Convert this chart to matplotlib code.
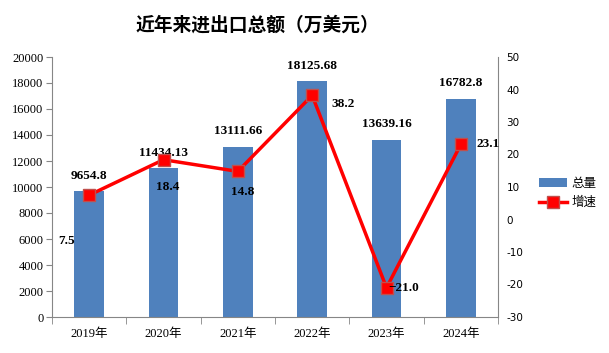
import matplotlib
matplotlib.use("Agg")
import matplotlib.pyplot as plt
from matplotlib.lines import Line2D
from matplotlib.patches import Patch

years = ["2019年", "2020年", "2021年", "2022年", "2023年", "2024年"]
totals = [9654.8, 11434.13, 13111.66, 18125.68, 13639.16, 16782.8]
total_labels = ["9654.8", "11434.13", "13111.66", "18125.68", "13639.16", "16782.8"]
growth = [7.5, 18.4, 14.8, 38.2, -21.0, 23.1]
growth_labels = ["7.5", "18.4", "14.8", "38.2", "\u221221.0", "23.1"]
# label offsets (pixels) for growth labels, styling only
g_off = [(-23, -46), (4, -27), (5, -21), (31, -9), (17, 0), (27, 0)]

serif = ["Liberation Serif", "Noto Sans CJK SC"]
cjk = ["Noto Sans CJK SC", "DejaVu Sans"]

fig = plt.figure(figsize=(6.09, 3.53), dpi=100)
ax = fig.add_axes([52/609, 1-317/353, (498-52)/609, (317-57)/353])
x = list(range(len(years)))
ax.bar(x, totals, width=0.4, color="#4F81BD", zorder=2)
ax.set_xlim(-0.5, 5.5)
ax.set_ylim(0, 20000)
ax.set_yticks(range(0, 20001, 2000))
ax.set_yticklabels([str(v) for v in range(0, 20001, 2000)], family=serif, fontsize=9)
ax.set_xticks(x)
ax.set_xticklabels(years, family=serif, fontsize=9)
ax.tick_params(axis="x", length=0, pad=8)
ax.set_xticks([i - 0.5 for i in range(7)], minor=True)
ax.tick_params(axis="x", which="minor", length=5, color="#868686")
ax.tick_params(axis="y", length=4, color="#868686", pad=2)
for s in ["top", "right"]:
    ax.spines[s].set_visible(False)
for s in ["left", "bottom"]:
    ax.spines[s].set_color("#868686")

for xi, v, lab in zip(x, totals, total_labels):
    ax.annotate(lab, (xi, v), xytext=(0, 7), textcoords="offset points",
                ha="center", va="bottom", family=serif, fontsize=9.5, fontweight="bold")

ax2 = ax.twinx()
ax2.set_ylim(-30, 50)
ax2.set_yticks(range(-30, 51, 10))
ax2.set_yticklabels([str(v) for v in range(-30, 51, 10)], family="DejaVu Sans", fontsize=7.5)
ax2.tick_params(axis="y", length=0, pad=6)
for s in ["top", "left", "bottom"]:
    ax2.spines[s].set_visible(False)
ax2.spines["right"].set_color("#868686")
ax2.plot(x, growth, color="#FF0000", lw=2.5, marker="s", markersize=8,
         markerfacecolor="#FF0000", markeredgecolor="#C0504D", zorder=3)
for xi, v, lab, (dx, dy) in zip(x, growth, growth_labels, g_off):
    ax2.annotate(lab, (xi, v), xytext=(dx * 0.72, dy * 0.72), textcoords="offset points",
                 ha="center", va="center", family=serif, fontsize=9.5, fontweight="bold")

fig.text(257/609, 1-25/353, "近年来进出口总额（万美元）", ha="center", va="center",
         family=cjk, fontsize=13.5, fontweight="bold")

handles = [Patch(facecolor="#4F81BD", edgecolor="none"),
           Line2D([], [], color="#FF0000", lw=2.5, marker="s", markersize=8,
                  markerfacecolor="#FF0000", markeredgecolor="#C0504D")]
fig.legend(handles, ["总量", "增速"], loc="center left", bbox_to_anchor=(534/609, 1-193/353),
           frameon=False, prop={"family": cjk, "size": 9}, handlelength=2.2,
           handletextpad=0.4, labelspacing=0.5, borderaxespad=0)

fig.savefig("out.png", dpi=100)
